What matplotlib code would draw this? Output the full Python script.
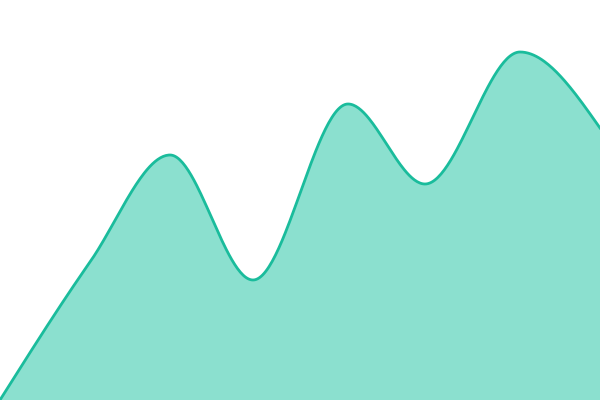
import matplotlib
matplotlib.use("Agg")
import matplotlib.pyplot as plt
import numpy as np

# values (x position, height)
xs = [0, 90, 170, 253, 348, 425, 520, 600]
values = [0, 138, 245, 120, 296, 216, 348, 272]

line_color = '#1abc9c'
fill_color = '#8be0cf'


def monotone_curve(x, y, n=60):
    # monotone cubic (like d3.curveMonotoneX), drawn as bezier segments
    x = np.asarray(x, float)
    y = np.asarray(y, float)
    h = np.diff(x)
    s = np.diff(y) / h
    t = np.zeros(len(x))
    for i in range(1, len(x) - 1):
        p = (s[i - 1] * h[i] + s[i] * h[i - 1]) / (h[i - 1] + h[i])
        t[i] = (np.sign(s[i - 1]) + np.sign(s[i])) * min(abs(s[i - 1]), abs(s[i]), 0.5 * abs(p))
    t[0] = (3 * s[0] - t[1]) / 2
    t[-1] = (3 * s[-1] - t[-2]) / 2
    px, py = [], []
    u = np.linspace(0, 1, n)
    for i in range(len(x) - 1):
        dx = h[i] / 3
        x0, x1, x2, x3 = x[i], x[i] + dx, x[i + 1] - dx, x[i + 1]
        y0, y1, y2, y3 = y[i], y[i] + dx * t[i], y[i + 1] - dx * t[i + 1], y[i + 1]
        b = [(1 - u) ** 3, 3 * u * (1 - u) ** 2, 3 * u ** 2 * (1 - u), u ** 3]
        px.extend(b[0] * x0 + b[1] * x1 + b[2] * x2 + b[3] * x3)
        py.extend(b[0] * y0 + b[1] * y1 + b[2] * y2 + b[3] * y3)
    return np.array(px), np.array(py)


cx, cy = monotone_curve(xs, values)

fig = plt.figure(figsize=(6, 4), dpi=100)
ax = fig.add_axes([0, 0, 1, 1])
ax.fill_between(cx, cy, 0, color=fill_color, linewidth=0)
ax.plot(cx, cy, color=line_color, linewidth=2)
ax.set_xlim(0, 600)
ax.set_ylim(0, 400)
ax.axis('off')

fig.savefig('out.png', dpi=100)
